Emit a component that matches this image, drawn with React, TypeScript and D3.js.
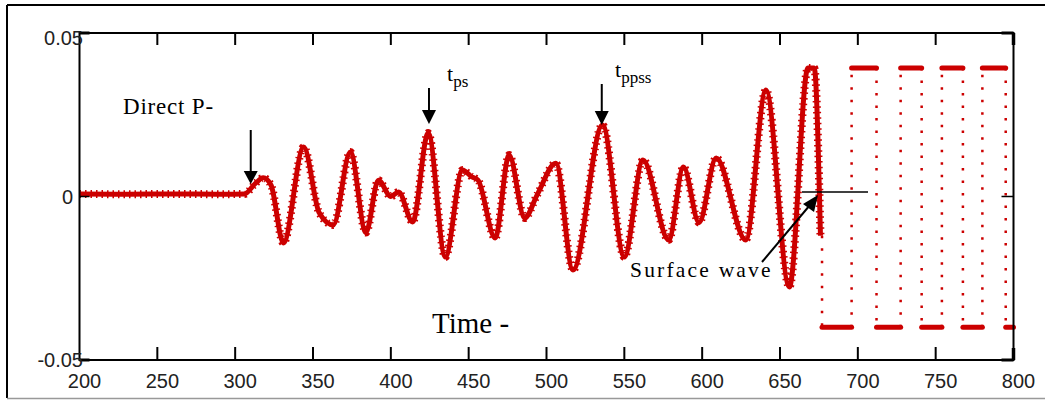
import React from "react";
import * as d3 from "d3";

// ---- data ----
const signalTime = [200, 230, 260, 290, 306, 313, 318, 323, 331, 344, 354, 363, 374, 384, 392, 400, 405, 414, 424, 435, 446, 452, 456, 467, 476, 486, 494, 506, 517, 536, 550, 562, 578.5, 588, 598, 609, 628, 641, 656, 668, 672, 676];
const signalValue = [0.0008, 0.0007, 0.0008, 0.0007, 0.0008, 0.004, 0.0057, 0.0035, -0.0142, 0.0151, -0.005, -0.0087, 0.0136, -0.011, 0.005, 0.0, 0.0014, -0.0078, 0.0194, -0.0185, 0.0081, 0.006, 0.005, -0.0127, 0.0127, -0.0066, 0.0005, 0.0102, -0.0225, 0.0219, -0.0185, 0.0112, -0.0133, 0.009, -0.008, 0.0118, -0.0133, 0.0326, -0.0277, 0.0393, 0.0393, -0.012];
// clipped square-wave tail: switching times, alternating low / high levels
const squareTimes = [677, 696, 712, 727.5, 741, 754, 767.5, 780, 795, 800];
const squareLevels = [-0.04, 0.0393];
const xTicks = [200, 250, 300, 350, 400, 450, 500, 550, 600, 650, 700, 750, 800];
const yTicks = [0.05, 0, -0.05];
const yTickLabels = ["0.05", "0", "-0.05"];

const RED = "#cc0000";
const SERIF = "'Liberation Serif', 'Times New Roman', serif";
const SANS = "'Liberation Sans', Arial, sans-serif";

export default function App() {
  const x = d3.scaleLinear().domain([200, 800]).range([79.5, 1013.5]);
  const y = d3.scaleLinear().domain([-0.05, 0.05]).range([360, 33]);
  const pts: [number, number][] = signalTime.map((t, i) => [t, signalValue[i]]);
  const line = d3
    .line<[number, number]>()
    .x((d) => x(d[0]))
    .y((d) => y(d[1]))
    .curve(d3.curveMonotoneX);
  const path = line(pts) || "";

  // square wave segments
  const horiz: { x1: number; x2: number; v: number }[] = [];
  const vert: { x: number; v1: number; v2: number }[] = [];
  vert.push({ x: squareTimes[0], v1: signalValue[signalValue.length - 1], v2: squareLevels[0] });
  for (let i = 0; i < squareTimes.length - 1; i++) {
    const v = squareLevels[i % 2];
    horiz.push({ x1: squareTimes[i], x2: squareTimes[i + 1], v });
    if (i + 1 < squareTimes.length - 1) {
      vert.push({ x: squareTimes[i + 1], v1: v, v2: squareLevels[(i + 1) % 2] });
    }
  }

  const L = x(200), R = x(800), T = y(0.05), B = y(-0.05);

  return (
    <svg width={1045} height={400} style={{ position: "absolute", left: 0, top: 0, background: "#fff" }}>
      <rect x={0} y={0} width={1045} height={400} fill="#fff" />
      {/* outer frame */}
      <line x1={7} y1={5} x2={1045} y2={5} stroke="#000" strokeWidth={2} />
      <line x1={7} y1={5} x2={7} y2={398} stroke="#000" strokeWidth={2} />
      <line x1={7} y1={398.5} x2={1045} y2={398.5} stroke="#999" strokeWidth={1.5} />

      {/* signal */}
      <path d={path} fill="none" stroke={RED} strokeWidth={5} strokeLinejoin="round" />
      <path d={path} fill="none" stroke={RED} strokeWidth={8} strokeDasharray="1.5 4" />

      {/* clipped tail */}
      {vert.map((s, i) => (
        <line key={"v" + i} x1={x(s.x)} x2={x(s.x)} y1={y(s.v1)} y2={y(s.v2)} stroke={RED} strokeWidth={2.5} strokeDasharray="2.5 10" />
      ))}
      {horiz.map((s, i) => (
        <line key={"h" + i} x1={x(s.x1)} x2={x(s.x2)} y1={y(s.v)} y2={y(s.v)} stroke={RED} strokeWidth={5} strokeLinecap="round" />
      ))}

      {/* plot frame */}
      <rect x={L} y={T} width={R - L} height={B - T} fill="none" stroke="#000" strokeWidth={2} />
      {xTicks.slice(1, -1).map((t) => (
        <g key={"xt" + t}>
          <line x1={x(t)} x2={x(t)} y1={B} y2={B - 13} stroke="#000" strokeWidth={2} />
          <line x1={x(t)} x2={x(t)} y1={T} y2={T + 12} stroke="#000" strokeWidth={2} />
        </g>
      ))}
      {yTicks.map((v) => (
        <g key={"yt" + v}>
          <line x1={L} x2={L + 10} y1={y(v)} y2={y(v)} stroke="#000" strokeWidth={v === 0 ? 1.5 : 3} />
          <line x1={R} x2={R - 12} y1={y(v)} y2={y(v)} stroke="#000" strokeWidth={v === 0 ? 1.5 : 3} />
        </g>
      ))}
      <line x1={R} x2={R} y1={T} y2={T + 12} stroke="#000" strokeWidth={3.5} />
      <line x1={R} x2={R} y1={B} y2={B - 12} stroke="#000" strokeWidth={3.5} />

      {/* tick labels */}
      {xTicks.map((t) => (
        <text key={"xl" + t} x={x(t) + 5} y={388} textAnchor="middle" fontFamily={SANS} fontSize={20} fill="#222">
          {t}
        </text>
      ))}
      {yTicks.map((v, i) => (
        <text key={"yl" + v} x={v === 0 ? 73 : 83} y={Math.max(y(v) + 7, 45)} textAnchor="end" fontFamily={SANS} fontSize={20} fill="#222">
          {yTickLabels[i]}
        </text>
      ))}

      {/* annotations */}
      <text x={123} y={114} fontFamily={SERIF} fontSize={23} letterSpacing={0.8} fill="#000">Direct P-</text>
      <line x1={x(310)} x2={x(310)} y1={130} y2={174} stroke="#000" strokeWidth={2} />
      <path d={`M${x(310) - 7},171 L${x(310) + 7},171 L${x(310)},184 Z`} fill="#000" />

      <text x={447} y={81} fontFamily={SERIF} fontSize={22} fill="#000">
        t<tspan dy={6} fontSize={17}>ps</tspan>
      </text>
      <line x1={x(424.5)} x2={x(424.5)} y1={88} y2={113} stroke="#000" strokeWidth={2} />
      <path d={`M${x(424.5) - 7},110 L${x(424.5) + 7},110 L${x(424.5)},124 Z`} fill="#000" />

      <text x={615} y={77} fontFamily={SERIF} fontSize={22} fill="#000">
        t<tspan dy={6} fontSize={17}>ppss</tspan>
      </text>
      <line x1={x(535.5)} x2={x(535.5)} y1={84} y2={114} stroke="#000" strokeWidth={2} />
      <path d={`M${x(535.5) - 7},111 L${x(535.5) + 7},111 L${x(535.5)},125 Z`} fill="#000" />

      <text x={432} y={333} fontFamily={SERIF} fontSize={29} fill="#000">Time -</text>

      <line x1={802} x2={868} y1={192} y2={192} stroke="#000" strokeWidth={1.5} />
      <line x1={762} y1={262} x2={810} y2={205} stroke="#000" strokeWidth={2} />
      <path d={`M818,195 L803,204 L814,212 Z`} fill="#000" />
      <text x={630} y={277} fontFamily={SERIF} fontSize={21.5} letterSpacing={2.2} fill="#000">Surface wave</text>
    </svg>
  );
}
